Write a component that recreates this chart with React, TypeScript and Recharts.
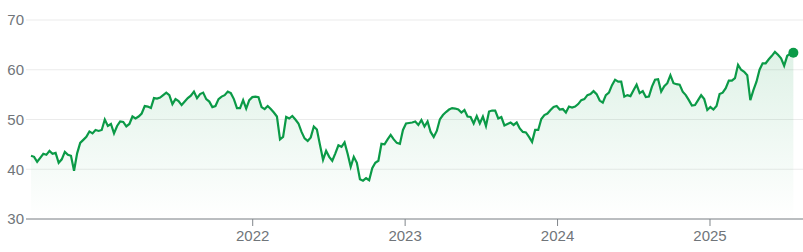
import React from 'react';
import { AreaChart, Area, XAxis, YAxis, CartesianGrid } from 'recharts';

// weekly closes, split by calendar year
const close2020to2021 = [
  42.7, 42.5, 41.5, 42.3, 43.1, 42.9, 43.7, 43.1, 43.3, 41.3,
  42.0, 43.5, 42.9, 42.7, 39.7, 43.2, 45.3, 45.9, 46.5, 47.6,
  47.2, 47.9, 47.7, 47.9, 50.0, 48.7, 49.1, 47.2, 48.7, 49.6,
  49.5, 48.6, 49.1, 50.6, 50.2, 50.6, 51.2, 52.7, 52.6, 52.3,
  54.3, 54.2, 54.4, 54.9, 55.4, 54.9, 53.1, 54.1, 53.7, 52.9,
  53.6, 54.3, 54.8, 55.6, 54.3, 55.1, 55.4, 54.1, 53.6, 52.5,
  52.7, 54.1, 54.6, 54.9, 55.6, 55.3, 54.1, 52.3, 52.3, 53.9,
  52.2, 53.9, 54.5,
];
const close2022 = [
  54.6, 54.5, 52.5, 52.1, 52.7, 52.1, 51.4, 50.6, 46.0, 46.5,
  50.5, 50.2, 50.7, 50.0, 49.2, 47.5, 46.2, 45.7, 46.4, 48.6,
  48.0, 44.9, 41.9, 43.7, 42.5, 41.7, 43.2, 44.8, 44.5, 45.4,
  43.1, 40.5, 42.5, 41.3, 38.0, 37.7, 38.2, 37.8, 40.2, 41.3,
  41.7, 45.1, 45.0, 46.0, 46.9, 46.0, 45.3, 45.1, 47.9,
];
const close2023 = [
  49.2, 49.3, 49.4, 49.6, 48.9, 49.9, 48.6, 49.6, 47.5, 46.5,
  47.7, 50.0, 50.9, 51.5, 52.0, 52.3, 52.2, 52.0, 51.4, 51.9,
  50.6, 50.5, 49.2, 50.7, 49.2, 50.6, 48.7, 51.6, 51.8, 51.8,
  50.2, 50.5, 48.8, 49.1, 49.4, 48.9, 49.4, 48.2, 47.5, 47.4,
  46.5, 45.5, 47.9, 47.9, 50.1, 50.9, 51.2, 51.9, 52.5, 52.7,
];
const close2024 = [
  52.0, 52.1, 51.4, 52.6, 52.4, 52.6, 53.1, 53.9, 54.1, 54.9,
  55.1, 55.7, 55.1, 53.8, 53.4, 54.9, 55.4, 56.9, 58.0, 57.6,
  57.6, 54.6, 54.9, 54.7, 55.9, 57.0, 55.3, 55.7, 54.5, 54.6,
  56.6, 58.0, 58.1, 55.6, 56.7, 57.3, 58.9, 57.3, 57.1, 57.0,
  55.6, 54.9, 53.9, 52.8, 52.9, 53.9, 54.9, 54.1, 51.9,
];
const close2025 = [
  52.5, 52.0, 52.7, 55.1, 55.4, 56.3, 57.8, 57.8, 58.3, 61.0,
  60.0, 59.6, 58.9, 53.9, 55.9, 57.6, 60.0, 61.3, 61.3, 62.1,
  62.8, 63.6, 63.0, 62.3, 60.8, 62.8, 63.2, 63.4,
];

const yearTicks = [2022, 2023, 2024, 2025];
const valueTicks = [30, 40, 50, 60, 70];

const FIRST_WEEK = 2020.5456; // decimal year of first close
const WEEK_STEP = 0.020167;

const GREEN = '#0b9a47';
const LABEL = '#70757a';

const closes = [...close2020to2021, ...close2022, ...close2023, ...close2024, ...close2025];
const data = closes.map((v, i) => ({ t: FIRST_WEEK + i * WEEK_STEP, v }));

const renderDot = (props: any) => {
  const { cx, cy, index } = props;
  if (index !== data.length - 1) return <g key={`dot-${index}`} />;
  return <circle key={`dot-${index}`} cx={cx} cy={cy} r={5} fill={GREEN} />;
};

export default function App() {
  return (
    <div>
      <style>{'body{margin:0}'}</style>
      <AreaChart
        width={803}
        height={252}
        data={data}
        margin={{ top: 20, right: 0, left: 0, bottom: 0 }}
        style={{ fontFamily: '"Liberation Sans", Arial, sans-serif' }}
      >
        <defs>
          <linearGradient id="fillGreen" x1="0" y1="0" x2="0" y2="1">
            <stop offset="0%" stopColor={GREEN} stopOpacity={0.22} />
            <stop offset="100%" stopColor={GREEN} stopOpacity={0} />
          </linearGradient>
        </defs>
        <CartesianGrid vertical={false} stroke="#ebebeb" />
        <XAxis
          dataKey="t"
          type="number"
          domain={[2020.5127, 2025.6102]}
          allowDataOverflow
          ticks={yearTicks}
          tickFormatter={(y) => String(y)}
          height={33}
          tickSize={7}
          tickMargin={4}
          stroke="#80868b"
          tick={{ fill: LABEL, fontSize: 15 }}
        />
        <YAxis
          domain={[30, 70]}
          ticks={valueTicks}
          width={26}
          axisLine={false}
          tickLine={false}
          tickSize={0}
          tickMargin={2}
          tick={{ fill: LABEL, fontSize: 15 }}
        />
        <Area
          type="linear"
          dataKey="v"
          stroke={GREEN}
          strokeWidth={2.2}
          fill="url(#fillGreen)"
          dot={renderDot}
          activeDot={false}
          isAnimationActive={false}
        />
      </AreaChart>
    </div>
  );
}
